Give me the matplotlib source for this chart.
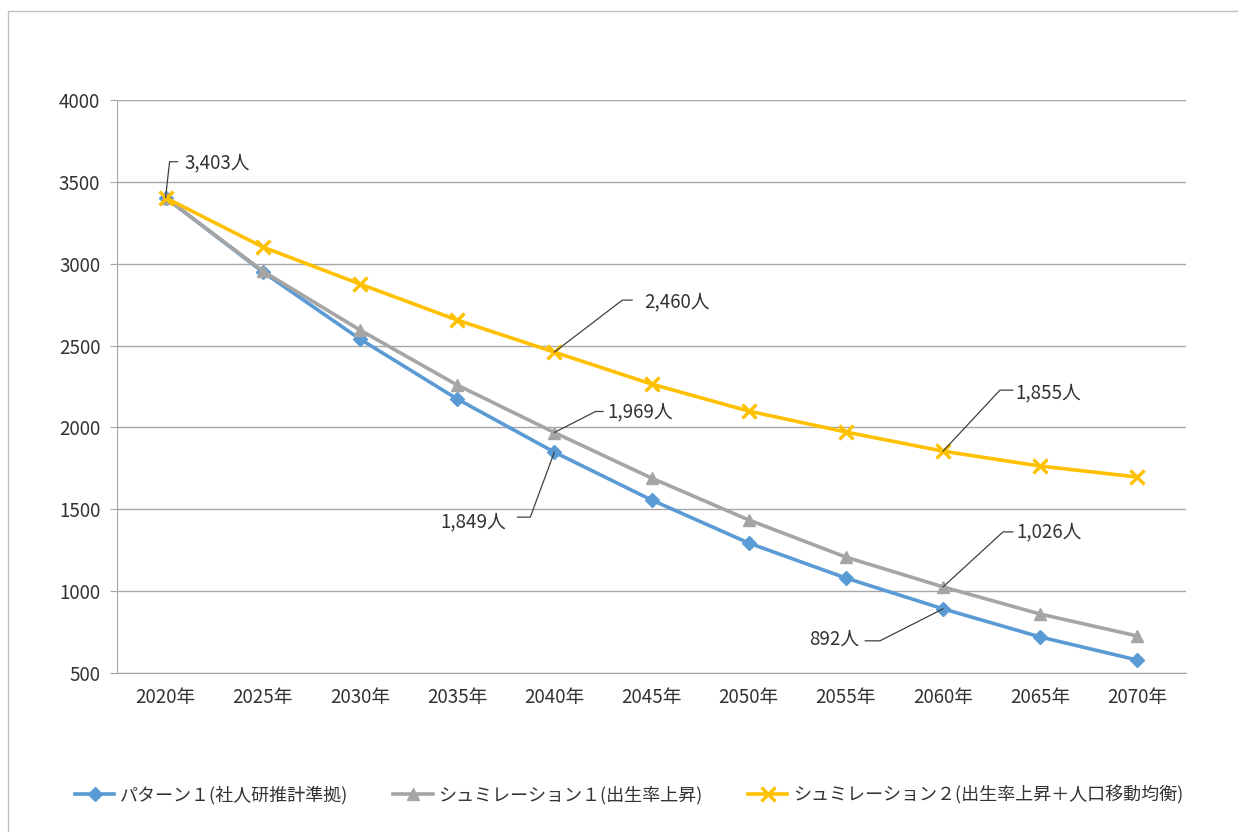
import matplotlib
matplotlib.use("Agg")
import matplotlib.pyplot as plt
from matplotlib.patches import Rectangle

plt.rcParams['font.family'] = ['Noto Sans CJK JP', 'DejaVu Sans']

years = ["2020年", "2025年", "2030年", "2035年", "2040年", "2045年",
         "2050年", "2055年", "2060年", "2065年", "2070年"]
pattern1 = [3403, 2950, 2540, 2174, 1849, 1557, 1294, 1080, 892, 720, 579]
sim1 = [3403, 2955, 2595, 2259, 1969, 1691, 1435, 1208, 1026, 860, 726]
sim2 = [3403, 3102, 2876, 2656, 2460, 2265, 2100, 1972, 1855, 1764, 1697]
series_names = ["パターン１(社人研推計準拠)",
                "シュミレーション１(出生率上昇)",
                "シュミレーション２(出生率上昇＋人口移動均衡)"]
yticks = [500, 1000, 1500, 2000, 2500, 3000, 3500, 4000]

# annotations: (series, index)
labels = [("sim2", 0), ("sim2", 4), ("sim1", 4), ("p1", 4),
          ("sim2", 8), ("sim1", 8), ("p1", 8)]

fig = plt.figure(figsize=(12.38, 8.32), dpi=100)
fig.patches.append(Rectangle((8/1238, -0.05), 1.1, 1 - 11/832 + 0.05,
                             transform=fig.transFigure, fill=False,
                             edgecolor='#bfbfbf', linewidth=1))
ax = fig.add_axes([117/1238, 1 - 673/832, (1186-117)/1238, (673-100)/832])

x = list(range(len(years)))
ax.plot(x, pattern1, color='#5b9bd5', lw=2.6, marker='D', ms=7,
        label=series_names[0], zorder=3)
ax.plot(x, sim1, color='#a5a5a5', lw=2.6, marker='^', ms=9,
        label=series_names[1], zorder=3)
ax.plot(x, sim2, color='#ffc000', lw=2.6, marker='x', ms=10, mew=2.4,
        label=series_names[2], zorder=3)

ax.set_xlim(-0.5, len(years) - 0.5)
ax.set_ylim(500, 4000)
ax.set_yticks(yticks)
ax.set_xticks(x)
ax.set_xticklabels(years)
ax.yaxis.grid(True, color='#a6a6a6', lw=1)
ax.set_axisbelow(True)
for s in ['top', 'right']:
    ax.spines[s].set_visible(False)
for s in ['left', 'bottom']:
    ax.spines[s].set_color('#a6a6a6')
ax.tick_params(axis='y', length=5, color='#a6a6a6', labelsize=13.5,
               labelcolor='#333333', pad=7)
ax.tick_params(axis='x', length=0, labelsize=13.5, labelcolor='#333333', pad=10)

data = {"p1": pattern1, "sim1": sim1, "sim2": sim2}
# leader geometry in pixels: (end dx, end dy, diag angle, text dx, text dy, ha)
geom = [
    (12, 36, 83.7, 19, 35, 'left'),
    (78, 52, 37.4, 90, 50, 'left'),
    (49, 21, 27.0, 53, 21, 'left'),
    (-37, -65, 69.7, -48, -70, 'right'),
    (70, 61, 47.0, 72, 58, 'left'),
    (70, 55, 42.5, 73, 55, 'left'),
    (-78, -32, 26.9, -84, -30, 'right'),
]
px = 0.72
for (key, i), (ex, ey, ang, tx, ty, ha) in zip(labels, geom):
    v = data[key][i]
    ax.annotate("", xy=(i, v), xytext=(ex*px, ey*px), textcoords='offset points',
                arrowprops=dict(arrowstyle='-', color='#404040', lw=0.9,
                                shrinkA=0, shrinkB=0,
                                connectionstyle=f"angle,angleA=0,angleB={ang},rad=0"),
                zorder=4)
    ax.annotate(f"{v:,}人", xy=(i, v), xytext=(tx*px, ty*px),
                textcoords='offset points', ha=ha, va='center',
                fontsize=13.5, color='#333333', zorder=5)

fig.legend(loc='center', bbox_to_anchor=(0.508, 1 - 795/832), ncol=3,
           frameon=False, fontsize=13, handlelength=2.2, handletextpad=0.3,
           columnspacing=2.5, labelcolor='#333333')

fig.savefig("out.png", dpi=100, facecolor='white')
